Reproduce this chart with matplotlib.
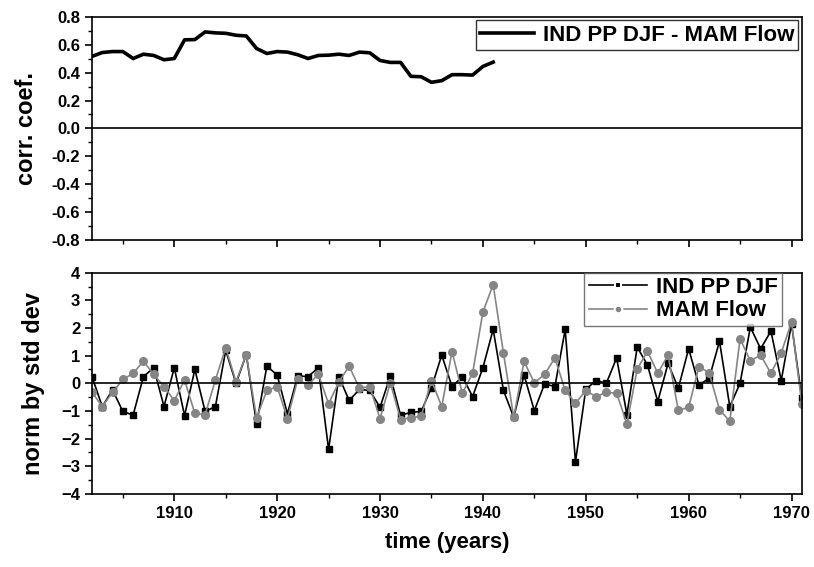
import numpy as np
import matplotlib
matplotlib.use("Agg")
import matplotlib.pyplot as plt
from matplotlib.lines import Line2D
from matplotlib.ticker import MultipleLocator

plt.rcParams['font.family'] = ['Liberation Sans', 'DejaVu Sans']
plt.rcParams['font.weight'] = 'bold'

# running correlation, IND PP DJF vs MAM Flow
corr_years = np.arange(1902, 1942)
corr = [0.517, 0.545, 0.552, 0.552, 0.502, 0.533, 0.524, 0.493, 0.502, 0.636,
        0.638, 0.693, 0.686, 0.683, 0.669, 0.664, 0.574, 0.538, 0.552, 0.548,
        0.529, 0.502, 0.524, 0.526, 0.533, 0.524, 0.548, 0.543, 0.488, 0.474,
        0.474, 0.374, 0.371, 0.331, 0.343, 0.386, 0.386, 0.383, 0.445, 0.476]
corr_ticks = [-0.8, -0.6, -0.4, -0.2, 0.0, 0.2, 0.4, 0.6, 0.8]
corr_ticklabels = ['-0.8', '-0.6', '-0.4', '-0.2', '0.0', '0.2', '0.4', '0.6', '0.8']

# normalised series
years = np.arange(1902, 1972)
ind_pp_djf = [0.24, -0.84, -0.24, -1.02, -1.15, 0.24, 0.56, -0.84, 0.56, -1.17,
              0.50, -1.02, -0.84, 1.19, 0.00, 1.04, -1.48, 0.62, 0.30, -1.10,
              0.27, 0.24, 0.56, -2.39, 0.24, -0.62, -0.22, -0.26, -0.87, 0.26,
              -1.16, -1.05, -1.02, -0.16, 1.02, -0.12, 0.24, -0.48, 0.56, 1.95,
              -0.26, -1.23, 0.30, -0.99, -0.02, -0.12, 1.95, -2.84, -0.22, 0.10,
              0.00, 0.92, -1.13, 1.31, 0.66, -0.66, 0.72, -0.18, 1.25, -0.06,
              0.18, 1.52, -0.84, 0.00, 2.03, 1.25, 1.89, 0.10, 2.15, -0.54]
mam_flow = [-0.32, -0.84, -0.33, 0.14, 0.36, 0.80, 0.32, -0.12, -0.63, 0.12,
            -1.09, -1.13, 0.12, 1.29, 0.06, 1.04, -1.25, -0.26, -0.12, -1.28,
            0.14, -0.07, 0.33, -0.74, 0.05, 0.62, -0.18, -0.12, -1.28, 0.02,
            -1.31, -1.25, -1.19, 0.10, -0.84, 1.15, -0.36, 0.36, 2.58, 3.57,
            1.09, -1.23, 0.79, 0.02, 0.32, 0.92, -0.26, -0.72, -0.27, -0.48,
            -0.33, -0.36, -1.46, 0.51, 1.16, 0.36, 1.02, -0.98, -0.87, 0.60,
            0.38, -0.96, -1.37, 1.61, 0.81, 1.02, 0.36, 1.10, 2.21, -0.74]

fig = plt.figure(figsize=(8.14, 5.67), dpi=100)
ax1 = fig.add_axes([0.113, 0.577, 0.872, 0.393])
ax2 = fig.add_axes([0.113, 0.129, 0.872, 0.390])

ax1.plot(corr_years, corr, color='black', lw=2.6, label='IND PP DJF - MAM Flow')
ax1.axhline(0, color='black', lw=1.2)
ax1.set_ylim(-0.8, 0.8)
ax1.set_yticks(corr_ticks)
ax1.set_yticklabels(corr_ticklabels)
ax1.yaxis.set_minor_locator(MultipleLocator(0.1))
ax1.set_ylabel('corr. coef.', fontsize=17, fontweight='bold', labelpad=10)
ax1.set_xticklabels([])
ax1.legend(loc='upper right', handlelength=2.4, frameon=True,
           fancybox=False, edgecolor='black', borderaxespad=0.15,
           borderpad=0.2, handletextpad=0.4, prop={'weight': 'bold', 'size': 16})

ax2.plot(years, ind_pp_djf, color='black', lw=1.2, marker='s', ms=5)
ax2.plot(years, mam_flow, color='#858585', lw=1.2, marker='o', ms=5.5)
ax2.axhline(0, color='black', lw=1.2)
ax2.set_ylim(-4, 4)
ax2.yaxis.set_major_locator(MultipleLocator(1))
ax2.yaxis.set_minor_locator(MultipleLocator(0.5))
ax2.set_ylabel('norm by std dev', fontsize=17, fontweight='bold', labelpad=12)
ax2.set_xlabel('time (years)', fontsize=16, fontweight='bold', labelpad=8)
handles = [Line2D([], [], color='black', lw=1.2, marker='s', ms=5,
                  markeredgecolor='white', markeredgewidth=1.5),
           Line2D([], [], color='#858585', lw=1.2, marker='o', ms=5.5,
                  markeredgecolor='white', markeredgewidth=1.5)]
ax2.legend(handles, ['IND PP DJF', 'MAM Flow'], loc='upper right',
           bbox_to_anchor=(0.972, 1.0), numpoints=1, handlelength=2.6,
           fancybox=False, edgecolor='#555555', borderaxespad=0.0,
           borderpad=0.2, labelspacing=0.1, handletextpad=0.4,
           prop={'weight': 'bold', 'size': 16})

for ax in (ax1, ax2):
    ax.set_xlim(1902, 1971)
    ax.xaxis.set_major_locator(MultipleLocator(10))
    ax.xaxis.set_minor_locator(MultipleLocator(5))
    ax.tick_params(which='major', direction='out', length=5, width=1.2,
                   labelsize=12, top=False, right=False)
    ax.tick_params(which='minor', direction='out', length=3, width=1.0,
                   top=False, right=False)
    for s in ax.spines.values():
        s.set_linewidth(1.2)
    for lab in ax.get_xticklabels() + ax.get_yticklabels():
        lab.set_fontweight('bold')

fig.savefig('out.png', dpi=100)
